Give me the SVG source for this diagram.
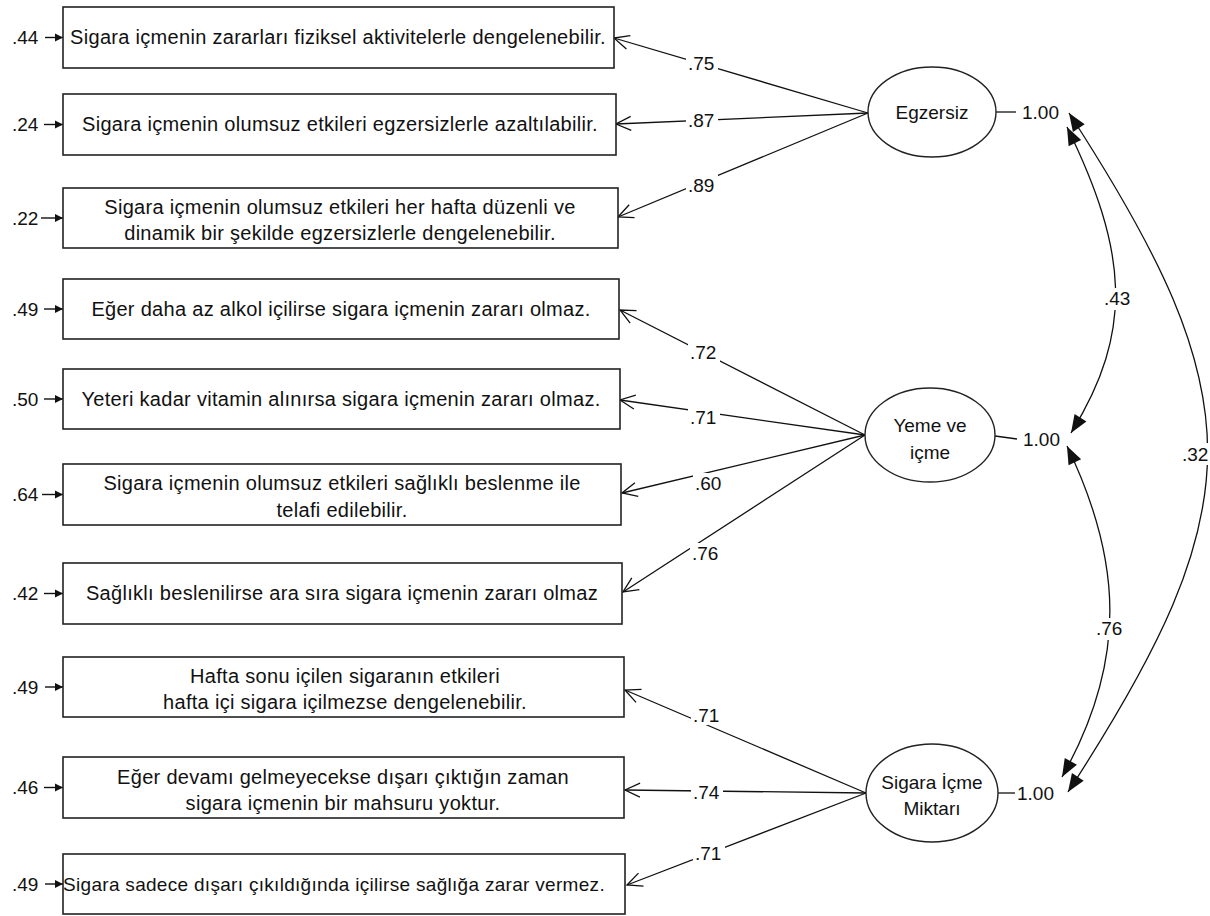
<svg xmlns="http://www.w3.org/2000/svg" width="1210" height="916" viewBox="0 0 1210 916">
<style>
text{font-family:"Liberation Sans",Arial,sans-serif;font-size:19px;fill:#111}
.bt{font-size:20px;letter-spacing:0.3px;text-anchor:middle}
.box{fill:#fff;stroke:#222;stroke-width:1.6}
.ell{fill:#fff;stroke:#222;stroke-width:1.4}
.ln{stroke:#111;stroke-width:1.3;fill:none}
.ld{stroke:#111;stroke-width:1.3;fill:none;marker-end:url(#open)}
.err{stroke:#111;stroke-width:1.4;fill:none;marker-end:url(#small)}
.cov{stroke:#111;stroke-width:1.3;fill:none;marker-start:url(#big);marker-end:url(#big)}
.bg{fill:#fff}
.m{text-anchor:middle}
</style>
<defs>
<marker id="open" markerUnits="userSpaceOnUse" markerWidth="20" markerHeight="20" viewBox="-18 -10 20 20" refX="0" refY="0" orient="auto">
<path d="M-15,-7 L0,0 L-15,7" fill="none" stroke="#111" stroke-width="1.3"/>
</marker>
<marker id="small" markerUnits="userSpaceOnUse" markerWidth="12" markerHeight="12" viewBox="-10 -6 12 12" refX="0" refY="0" orient="auto">
<path d="M0,0 L-8,-4 L-8,4 z" fill="#111"/>
</marker>
<marker id="big" markerUnits="userSpaceOnUse" markerWidth="24" markerHeight="24" viewBox="-22 -12 24 24" refX="0" refY="0" orient="auto-start-reverse">
<path d="M0,0 L-18,-7 L-18,7 z" fill="#111"/>
</marker>
</defs>
<rect width="1210" height="916" fill="#fff"/>

<g id="connectors">
<line class="ld" x1="868" y1="113" x2="614" y2="38"/>
<line class="ld" x1="868" y1="113" x2="616" y2="124"/>
<line class="ld" x1="868" y1="113" x2="618" y2="217"/>
<line class="ld" x1="865" y1="435" x2="620" y2="310"/>
<line class="ld" x1="865" y1="435" x2="620" y2="400"/>
<line class="ld" x1="865" y1="435" x2="622" y2="493"/>
<line class="ld" x1="865" y1="435" x2="623" y2="592"/>
<line class="ld" x1="866" y1="793" x2="625" y2="690"/>
<line class="ld" x1="866" y1="793" x2="625" y2="790"/>
<line class="ld" x1="866" y1="793" x2="627" y2="885"/>

<line class="err" x1="45" y1="37.5" x2="63" y2="37.5"/>
<line class="err" x1="44" y1="124.5" x2="63" y2="124.5"/>
<line class="err" x1="41" y1="218" x2="63" y2="218"/>
<line class="err" x1="44" y1="309" x2="63" y2="309"/>
<line class="err" x1="44" y1="399" x2="63" y2="399"/>
<line class="err" x1="42" y1="494.5" x2="63" y2="494.5"/>
<line class="err" x1="44" y1="593.5" x2="63" y2="593.5"/>
<line class="err" x1="45" y1="687" x2="63" y2="687"/>
<line class="err" x1="44" y1="787.5" x2="63" y2="787.5"/>
<line class="err" x1="45" y1="884" x2="63" y2="884"/>

<line class="ln" x1="996" y1="112" x2="1016" y2="112"/>
<line class="ln" x1="995" y1="436" x2="1017" y2="439"/>
<line class="ln" x1="998" y1="793" x2="1015" y2="793"/>

<path class="cov" d="M1069,113 C1254,398 1254,506 1068,792"/>
<path class="cov" d="M1067,127 C1127,250 1135,330 1071,433"/>
<path class="cov" d="M1067,446 C1122,560 1128,660 1062,777"/>
</g>

<g id="labels">
<rect class="bg" x="686" y="53" width="32" height="20"/><text x="688" y="70">.75</text>
<rect class="bg" x="686" y="110" width="32" height="20"/><text x="688" y="127">.87</text>
<rect class="bg" x="686" y="175" width="32" height="20"/><text x="688" y="192">.89</text>
<rect class="bg" x="688" y="342" width="32" height="20"/><text x="690" y="359">.72</text>
<rect class="bg" x="688" y="407" width="32" height="20"/><text x="690" y="424">.71</text>
<rect class="bg" x="693" y="473" width="32" height="20"/><text x="695" y="490">.60</text>
<rect class="bg" x="690" y="543" width="32" height="20"/><text x="692" y="560">.76</text>
<rect class="bg" x="691" y="705" width="32" height="20"/><text x="693" y="722">.71</text>
<rect class="bg" x="691" y="782" width="32" height="20"/><text x="693" y="799">.74</text>
<rect class="bg" x="693" y="843" width="32" height="20"/><text x="695" y="860">.71</text>
<rect class="bg" x="1103" y="288" width="30" height="22"/><text x="1104" y="305">.43</text>
<rect class="bg" x="1095" y="618" width="30" height="22"/><text x="1096" y="635">.76</text>
<rect class="bg" x="1181" y="443" width="29" height="22"/><text x="1182" y="461">.32</text>
<text x="1022" y="119">1.00</text>
<text x="1023" y="446">1.00</text>
<text x="1017" y="800">1.00</text>
<text x="12" y="44">.44</text>
<text x="12" y="131">.24</text>
<text x="12" y="225">.22</text>
<text x="12" y="316">.49</text>
<text x="12" y="406">.50</text>
<text x="12" y="501">.64</text>
<text x="12" y="600">.42</text>
<text x="12" y="694">.49</text>
<text x="12" y="794">.46</text>
<text x="12" y="891">.49</text>
</g>

<g id="box1"><rect class="box" x="63" y="7" width="551" height="61"/><text class="bt" x="338" y="44">Sigara içmenin zararları fiziksel aktivitelerle dengelenebilir.</text></g>
<g id="box2"><rect class="box" x="63" y="94" width="553" height="61"/><text class="bt" x="340" y="131">Sigara içmenin olumsuz etkileri egzersizlerle azaltılabilir.</text></g>
<g id="box3"><rect class="box" x="63" y="188" width="555" height="60"/><text class="bt" x="340" y="214">Sigara içmenin olumsuz etkileri her hafta düzenli ve</text><text class="bt" x="340" y="240">dinamik bir şekilde egzersizlerle dengelenebilir.</text></g>
<g id="box4"><rect class="box" x="63" y="279" width="556" height="60"/><text class="bt" x="341" y="316">Eğer daha az alkol içilirse sigara içmenin zararı olmaz.</text></g>
<g id="box5"><rect class="box" x="63" y="369" width="557" height="60"/><text class="bt" x="341" y="406">Yeteri kadar vitamin alınırsa sigara içmenin zararı olmaz.</text></g>
<g id="box6"><rect class="box" x="63" y="464" width="558" height="61"/><text class="bt" x="342" y="490">Sigara içmenin olumsuz etkileri sağlıklı beslenme ile</text><text class="bt" x="342" y="517">telafi edilebilir.</text></g>
<g id="box7"><rect class="box" x="63" y="563" width="559" height="61"/><text class="bt" x="342" y="600">Sağlıklı beslenilirse ara sıra sigara içmenin zararı olmaz</text></g>
<g id="box8"><rect class="box" x="63" y="657" width="561" height="60"/><text class="bt" x="345" y="683">Hafta sonu içilen sigaranın etkileri</text><text class="bt" x="345" y="709">hafta içi sigara içilmezse dengelenebilir.</text></g>
<g id="box9"><rect class="box" x="63" y="757" width="561" height="61"/><text class="bt" x="343" y="784">Eğer devamı gelmeyecekse dışarı çıktığın zaman</text><text class="bt" x="343" y="810">sigara içmenin bir mahsuru yoktur.</text></g>
<g id="box10"><rect class="box" x="63" y="854" width="562" height="60"/><text class="bt" x="334" y="891" style="font-size:19px">Sigara sadece dışarı çıkıldığında içilirse sağlığa zarar vermez.</text></g>

<g id="egzersiz"><ellipse class="ell" cx="932" cy="112" rx="64" ry="45"/><text class="m" x="932" y="119">Egzersiz</text></g>
<g id="yeme"><ellipse class="ell" cx="930" cy="435" rx="65" ry="47"/><text class="m" x="930" y="432">Yeme ve</text><text class="m" x="930" y="459">içme</text></g>
<g id="sigara"><ellipse class="ell" cx="932" cy="793" rx="66" ry="49"/><text class="m" x="932" y="789">Sigara İçme</text><text class="m" x="932" y="815">Miktarı</text></g>
</svg>
